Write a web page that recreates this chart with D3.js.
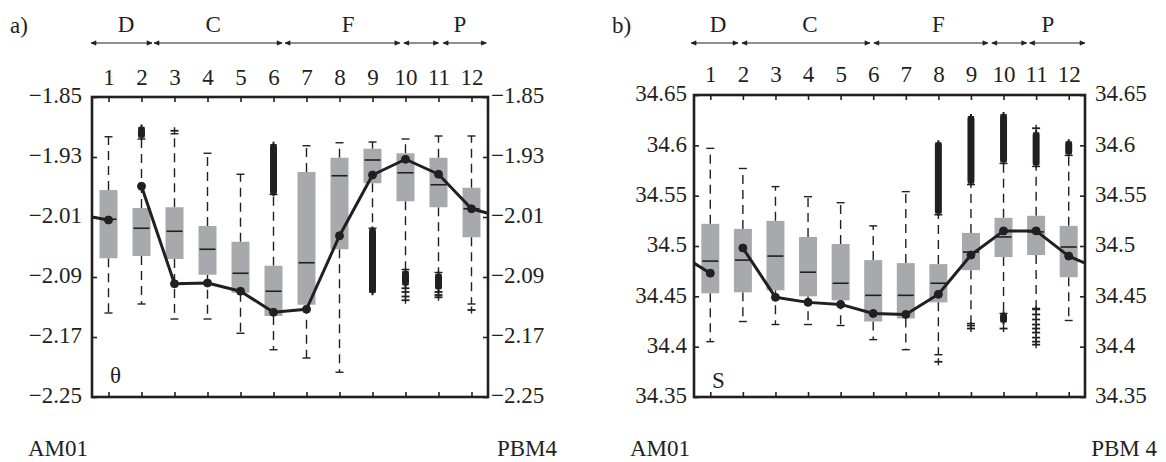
<!DOCTYPE html>
<html>
<head>
<meta charset="utf-8">
<script src="https://cdn.jsdelivr.net/npm/d3@7"></script>
<style>
  body { margin: 0; background: #fff; }
  svg { display: block; }
  text { font-family: "Liberation Serif", "Times New Roman", serif; fill: #231f20; }
</style>
</head>
<body>
<svg id="chart" width="1166" height="462"></svg>
<script>
// Station numbers along the section
const stations = [1, 2, 3, 4, 5, 6, 7, 8, 9, 10, 11, 12];

// Water mass groups over the stations (span in station units)
const thetaRegions = [
  { name: "D", from: 0.47, to: 2.32, at: 1.53 },
  { name: "C", from: 2.38, to: 6.26, at: 4.17 },
  { name: "F", from: 6.35, to: 9.83, at: 8.26 },
  { name: "",  from: 9.95, to: 11.0, at: 10.5 },
  { name: "P", from: 11.14, to: 12.45, at: 11.65 }
];
const salRegions = [
  { name: "D", from: 0.41, to: 1.85, at: 1.24 },
  { name: "C", from: 1.97, to: 5.90, at: 4.06 },
  { name: "F", from: 6.02, to: 9.52, at: 8.0 },
  { name: "",  from: 9.64, to: 10.71, at: 10.2 },
  { name: "P", from: 10.8, to: 12.5, at: 11.36 }
];

// Potential temperature θ
const thetaTicks = [-1.85, -1.93, -2.01, -2.09, -2.17, -2.25];
const thetaTickLabels = ["−1.85", "−1.93", "−2.01", "−2.09", "−2.17", "−2.25"];
const thetaQ3     = [-1.974, -1.998, -1.997, -2.022, -2.043, -2.075, -1.950, -1.931, -1.919, -1.925, -1.931, -1.971];
const thetaMedian = [-2.013, -2.025, -2.029, -2.053, -2.085, -2.109, -2.071, -1.955, -1.934, -1.951, -1.967, -1.999];
const thetaQ1     = [-2.065, -2.062, -2.066, -2.087, -2.111, -2.142, -2.127, -2.053, -1.965, -1.989, -1.997, -2.037];
const thetaHi     = [-1.903, -1.906, -1.899, -1.925, -1.953, -1.980, -1.915, -1.911, -1.910, -1.906, -1.902, -1.902];
const thetaLo     = [-2.138, -2.126, -2.146, -2.146, -2.165, -2.187, -2.198, -2.217, -2.025, -2.080, -2.084, -2.126];
const thetaMean   = [-2.014, -1.969, -2.099, -2.098, -2.109, -2.137, -2.133, -2.035, -1.954, -1.933, -1.953, -1.999];
const thetaEnds   = [-2.010, -2.005];  // section end points AM01, PBM4
// dense runs of outliers: [station, from, to]
const thetaClusters = [[2, -1.891, -1.903], [6, -1.914, -1.978], [9, -2.027, -2.110],
                       [10, -2.083, -2.100], [11, -2.087, -2.105]];
// single outliers: [station, value]
const thetaFliers = [[3, -1.895], [10, -2.105], [10, -2.110], [10, -2.116], [10, -2.121],
                     [11, -2.110], [11, -2.114], [11, -2.117], [12, -2.134]];

// Salinity S
const salTicks = [34.65, 34.6, 34.55, 34.5, 34.45, 34.4, 34.35];
const salTickLabels = ["34.65", "34.6", "34.55", "34.5", "34.45", "34.4", "34.35"];
const salQ3     = [34.522, 34.517, 34.525, 34.509, 34.502, 34.486, 34.483, 34.482, 34.513, 34.528, 34.530, 34.520];
const salMedian = [34.485, 34.486, 34.490, 34.474, 34.463, 34.451, 34.451, 34.463, 34.494, 34.509, 34.514, 34.499];
const salQ1     = [34.453, 34.454, 34.456, 34.450, 34.446, 34.425, 34.428, 34.444, 34.476, 34.489, 34.491, 34.469];
const salHi     = [34.597, 34.577, 34.559, 34.549, 34.543, 34.520, 34.554, 34.531, 34.561, 34.582, 34.579, 34.590];
const salLo     = [34.405, 34.425, 34.422, 34.422, 34.421, 34.407, 34.397, 34.392, 34.423, 34.433, 34.438, 34.426];
const salMean   = [34.473, 34.498, 34.449, 34.444, 34.442, 34.433, 34.432, 34.452, 34.491, 34.515, 34.515, 34.490];
const salEnds   = [34.483, 34.483];
const salClusters = [[8, 34.533, 34.602], [9, 34.563, 34.628], [10, 34.584, 34.630],
                     [11, 34.581, 34.612], [12, 34.592, 34.603], [10, 34.425, 34.432]];
const salFliers = [[8, 34.385], [9, 34.418], [9, 34.421], [10, 34.418], [11, 34.617], [11, 34.437],
                   [11, 34.432], [11, 34.427], [11, 34.422], [11, 34.418], [11, 34.414],
                   [11, 34.409], [11, 34.405], [11, 34.402]];

const svg = d3.select("#chart");
const FS = 23;

function panel(opt) {
  const g = svg.append("g");
  const x = d3.scaleLinear().domain([0.5, 12.5]).range([opt.left, opt.right]);
  const y = d3.scaleLinear().domain([opt.ticks[opt.ticks.length - 1], opt.ticks[0]])
    .range([opt.bottom, opt.top]);

  // panel letter
  g.append("text").attr("x", opt.letterX).attr("y", 33).attr("font-size", FS).text(opt.letter);

  // group arrows and names
  const arrowY = 43;
  opt.regions.forEach(r => {
    const x0 = x(r.from), x1 = x(r.to);
    g.append("line").attr("x1", x0).attr("x2", x1).attr("y1", arrowY).attr("y2", arrowY)
      .attr("stroke", "#231f20").attr("stroke-width", 1);
    g.append("path")
      .attr("d", `M${x0 + 5},${arrowY - 2.2}L${x0},${arrowY}L${x0 + 5},${arrowY + 2.2}Z` +
                 `M${x1 - 5},${arrowY - 2.2}L${x1},${arrowY}L${x1 - 5},${arrowY + 2.2}Z`)
      .attr("fill", "#231f20").attr("stroke", "#231f20").attr("stroke-width", 0.6);
    if (r.name) {
      g.append("text").attr("x", x(r.at)).attr("y", 32).attr("text-anchor", "middle")
        .attr("font-size", FS).text(r.name);
    }
  });

  // boxes
  const boxW = 18;
  stations.forEach((s, i) => {
    const cx = x(s);
    // whiskers
    [[opt.q3[i], opt.hi[i]], [opt.q1[i], opt.lo[i]]].forEach(([a, b]) => {
      g.append("line").attr("x1", cx).attr("x2", cx).attr("y1", y(a)).attr("y2", y(b))
        .attr("stroke", "#231f20").attr("stroke-width", 1.4).attr("stroke-dasharray", "9,6");
      g.append("line").attr("x1", cx - 4).attr("x2", cx + 4).attr("y1", y(b)).attr("y2", y(b))
        .attr("stroke", "#231f20").attr("stroke-width", 1.4);
    });
    g.append("rect").attr("x", cx - boxW / 2).attr("width", boxW)
      .attr("y", y(opt.q3[i])).attr("height", y(opt.q1[i]) - y(opt.q3[i]))
      .attr("fill", "#a7a9ac");
    g.append("line").attr("x1", cx - boxW / 2 + 1).attr("x2", cx + boxW / 2 - 1)
      .attr("y1", y(opt.median[i])).attr("y2", y(opt.median[i]))
      .attr("stroke", "#231f20").attr("stroke-width", 1.6);
  });

  // outliers
  const plus = d3.symbol().type(d3.symbolCross).size(22);
  opt.clusters.forEach(([s, a, b]) => {
    const cx = x(s);
    g.append("rect").attr("x", cx - 3.5).attr("width", 7)
      .attr("y", Math.min(y(a), y(b))).attr("height", Math.abs(y(a) - y(b)))
      .attr("fill", "#231f20").attr("rx", 1.5);
    [a, b].forEach(v => {
      g.append("path").attr("d", plus).attr("transform", `translate(${cx},${y(v)})`)
        .attr("fill", "#231f20");
    });
  });
  opt.fliers.forEach(([s, v]) => {
    const cx = x(s);
    g.append("line").attr("x1", cx - 4).attr("x2", cx + 4).attr("y1", y(v)).attr("y2", y(v))
      .attr("stroke", "#231f20").attr("stroke-width", 1.8);
    g.append("line").attr("x1", cx).attr("x2", cx).attr("y1", y(v) - 3.5).attr("y2", y(v) + 3.5)
      .attr("stroke", "#231f20").attr("stroke-width", 1.4);
  });

  // mean profile, broken between stations 1 and 2
  const line = d3.line().x(d => d[0]).y(d => y(d[1]));
  const seg1 = [[opt.left, opt.ends[0]], [x(1), opt.mean[0]]];
  const seg2 = stations.slice(1).map((s, i) => [x(s), opt.mean[i + 1]])
    .concat([[opt.right, opt.ends[1]]]);
  [seg1, seg2].forEach(seg => {
    g.append("path").attr("d", line(seg)).attr("fill", "none")
      .attr("stroke", "#231f20").attr("stroke-width", 3).attr("stroke-linejoin", "round");
  });
  g.selectAll("circle.m").data(stations).join("circle")
    .attr("cx", s => x(s)).attr("cy", (s, i) => y(opt.mean[i])).attr("r", 4)
    .attr("fill", "#231f20").attr("stroke", "#231f20").attr("stroke-width", 1);

  // axes with inward ticks
  const axes = [
    d3.axisTop(x).tickValues(stations).tickSize(-5).tickPadding(opt.numPad).tickFormat(d3.format("d")),
    d3.axisBottom(x).tickValues(stations).tickSize(-5).tickFormat(""),
    d3.axisLeft(y).tickValues(opt.ticks).tickSize(-5).tickPadding(opt.leftPad)
      .tickFormat((d, i) => opt.labels[i]),
    d3.axisRight(y).tickValues(opt.ticks).tickSize(-5).tickPadding(opt.rightPad)
      .tickFormat((d, i) => opt.labels[i])
  ];
  const pos = [`0,${opt.top}`, `0,${opt.bottom}`, `${opt.left},0`, `${opt.right},0`];
  axes.forEach((ax, k) => {
    const a = g.append("g").attr("transform", `translate(${pos[k]})`).call(ax);
    a.select(".domain").remove();
    a.selectAll("line").attr("stroke", "#231f20").attr("stroke-width", 1.6);
    a.selectAll("text").attr("font-size", FS)
      .attr("font-family", "'Liberation Serif', 'Times New Roman', serif").attr("fill", "#231f20");
    if (k >= 2) a.selectAll("text").attr("dy", "0.25em");
  });

  // frame
  g.append("rect").attr("x", opt.left).attr("y", opt.top)
    .attr("width", opt.right - opt.left).attr("height", opt.bottom - opt.top)
    .attr("fill", "none").attr("stroke", "#231f20").attr("stroke-width", 2.6);

  // variable symbol and section ends
  g.append("text").attr("x", opt.symX).attr("y", opt.symY).attr("font-size", FS).text(opt.symbol);
  g.append("text").attr("x", opt.left - 64).attr("y", 456).attr("font-size", FS).text("AM01");
  g.append("text").attr("x", opt.endX).attr("y", 456).attr("text-anchor", "end")
    .attr("font-size", FS).text(opt.endName);
}

panel({
  letter: "a)", letterX: 10, left: 92, right: 488, top: 97, bottom: 397,
  ticks: thetaTicks, labels: thetaTickLabels, regions: thetaRegions,
  q1: thetaQ1, q3: thetaQ3, median: thetaMedian, hi: thetaHi, lo: thetaLo,
  mean: thetaMean, ends: thetaEnds, clusters: thetaClusters, fliers: thetaFliers,
  numPad: 12, leftPad: 10, rightPad: 3, symbol: "θ", symX: 110, symY: 383,
  endName: "PBM4", endX: 557
});

panel({
  letter: "b)", letterX: 612, left: 694, right: 1085, top: 95, bottom: 397,
  ticks: salTicks, labels: salTickLabels, regions: salRegions,
  q1: salQ1, q3: salQ3, median: salMedian, hi: salHi, lo: salLo,
  mean: salMean, ends: salEnds, clusters: salClusters, fliers: salFliers,
  numPad: 13, leftPad: 7, rightPad: 10, symbol: "S", symX: 712, symY: 388,
  endName: "PBM 4", endX: 1157
});
</script>
</body>
</html>
